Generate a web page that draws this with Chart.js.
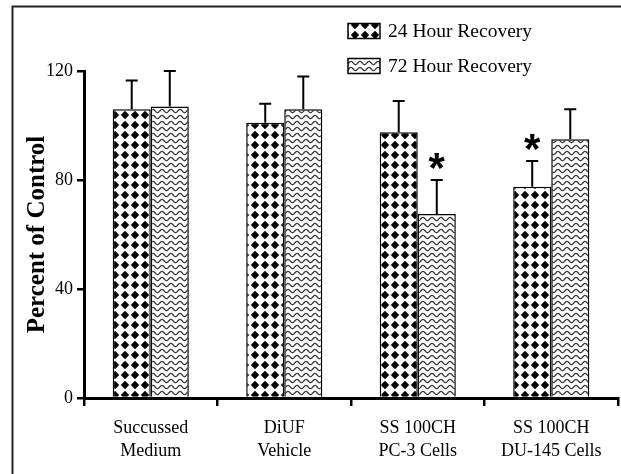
<!DOCTYPE html>
<html>
<head>
<meta charset="utf-8">
<script src="https://cdn.jsdelivr.net/npm/chart.js@4.4.1/dist/chart.umd.min.js"></script>
<style>
  html, body { margin: 0; padding: 0; background: #fff; }
  canvas { display: block; }
</style>
</head>
<body>
<canvas id="chart" width="621" height="474"></canvas>
<script>
// Treatment groups (two-line axis labels)
const categories = [
  ["Succussed", "Medium"],
  ["DiUF", "Vehicle"],
  ["SS 100CH", "PC-3 Cells"],
  ["SS 100CH", "DU-145 Cells"]
];
const seriesNames = ["24 Hour Recovery", "72 Hour Recovery"];

// Percent of control (mean) and upper error (SD)
const recovery24 = [106, 101, 97.5, 77.5];
const recovery24Err = [10.5, 7, 11.5, 9.5];
const recovery72 = [107, 106, 67.5, 95];
const recovery72Err = [13, 12, 12.5, 11];

// Significance markers (*)
const significant24 = [false, false, false, true];
const significant72 = [false, false, true, false];

const yTicks = [0, 40, 80, 120];

const SERIF = '"Liberation Serif", "Times New Roman", serif';

// Black diamonds on white
function diamondPattern() {
  const s = 10;
  const c = document.createElement('canvas');
  c.width = s; c.height = s;
  const g = c.getContext('2d');
  g.fillStyle = '#fff';
  g.fillRect(0, 0, s, s);
  g.fillStyle = '#000';
  g.beginPath();
  g.moveTo(5, 0.8); g.lineTo(9.2, 5); g.lineTo(5, 9.2); g.lineTo(0.8, 5);
  g.closePath();
  g.fill();
  return g.createPattern(c, 'repeat');
}

// Grey wavy lines on white
function wavePattern() {
  const w = 9, h = 6;
  const c = document.createElement('canvas');
  c.width = w; c.height = h;
  const g = c.getContext('2d');
  g.fillStyle = '#fff';
  g.fillRect(0, 0, w, h);
  g.strokeStyle = '#3a3a3a';
  g.lineWidth = 1.3;
  g.beginPath();
  for (let i = 0; i <= 36; i++) {
    const x = i * w / 36;
    const y = 3 - 1.6 * Math.cos(2 * Math.PI * x / w);
    if (i === 0) g.moveTo(x, y); else g.lineTo(x, y);
  }
  g.stroke();
  return g.createPattern(c, 'repeat');
}

// Outer frame lines (top and left)
const framePlugin = {
  id: 'frame',
  beforeDraw(chart) {
    const { ctx, width, height } = chart;
    ctx.save();
    ctx.fillStyle = '#fff';
    ctx.fillRect(0, 0, width, height);
    ctx.strokeStyle = '#222';
    ctx.lineWidth = 2;
    ctx.beginPath();
    ctx.moveTo(12.5, height);
    ctx.lineTo(12.5, 6.5);
    ctx.lineTo(width, 6.5);
    ctx.stroke();
    ctx.restore();
  }
};

// Upward error bars with caps, plus significance asterisks
const errorBarPlugin = {
  id: 'errorBars',
  afterDatasetsDraw(chart) {
    const { ctx } = chart;
    const y = chart.scales.y;
    chart.data.datasets.forEach((ds, i) => {
      const meta = chart.getDatasetMeta(i);
      meta.data.forEach((bar, j) => {
        const top = y.getPixelForValue(ds.data[j]);
        const end = y.getPixelForValue(ds.data[j] + ds.errPlus[j]);
        ctx.save();
        ctx.strokeStyle = '#000';
        ctx.lineWidth = 2;
        ctx.beginPath();
        ctx.moveTo(bar.x, top);
        ctx.lineTo(bar.x, end);
        ctx.moveTo(bar.x - 6, end);
        ctx.lineTo(bar.x + 6, end);
        ctx.stroke();
        if (ds.sig[j]) {
          ctx.fillStyle = '#000';
          ctx.font = 'bold 42px "Liberation Sans", Arial, sans-serif';
          ctx.textAlign = 'center';
          ctx.textBaseline = 'alphabetic';
          ctx.fillText('*', bar.x, end + 2);
        }
        ctx.restore();
      });
    });
  }
};

// Stacked legend with pattern swatches
const legendPlugin = {
  id: 'stackedLegend',
  afterDraw(chart) {
    const { ctx } = chart;
    const x0 = 348, sw = 32, sh = 15, rowY = [31, 66];
    chart.data.datasets.forEach((ds, i) => {
      const cy = rowY[i];
      ctx.save();
      ctx.fillStyle = ds.backgroundColor;
      ctx.fillRect(x0, cy - sh / 2, sw, sh);
      ctx.strokeStyle = '#000';
      ctx.lineWidth = 1.5;
      ctx.strokeRect(x0, cy - sh / 2, sw, sh);
      ctx.fillStyle = '#000';
      ctx.font = '19.5px ' + SERIF;
      ctx.textAlign = 'left';
      ctx.textBaseline = 'middle';
      ctx.fillText(ds.label, x0 + 40, cy + 1);
      ctx.restore();
    });
  }
};

const ctx = document.getElementById('chart').getContext('2d');
new Chart(ctx, {
  type: 'bar',
  data: {
    labels: categories,
    datasets: [
      {
        label: seriesNames[0],
        data: recovery24,
        errPlus: recovery24Err,
        sig: significant24,
        backgroundColor: diamondPattern(),
        borderColor: '#000',
        borderWidth: 1.5,
        categoryPercentage: 0.57,
        barPercentage: 1.0
      },
      {
        label: seriesNames[1],
        data: recovery72,
        errPlus: recovery72Err,
        sig: significant72,
        backgroundColor: wavePattern(),
        borderColor: '#000',
        borderWidth: 1.5,
        categoryPercentage: 0.57,
        barPercentage: 1.0
      }
    ]
  },
  options: {
    responsive: false,
    animation: false,
    layout: { padding: { left: 0, top: 71, right: 3, bottom: 0 } },
    plugins: {
      legend: { display: false },
      tooltip: { enabled: false }
    },
    scales: {
      x: {
        grid: {
          display: true,
          drawOnChartArea: false,
          drawTicks: true,
          tickLength: 8,
          color: '#000',
          lineWidth: 2.5
        },
        border: { display: true, color: '#000', width: 3 },
        ticks: {
          color: '#000',
          font: { family: SERIF, size: 18, lineHeight: 1.28 },
          padding: 11,
          maxRotation: 0,
          autoSkip: false
        },
        afterFit(scale) { scale.height = 76; }
      },
      y: {
        min: 0,
        max: 120,
        afterBuildTicks(scale) { scale.ticks = yTicks.map(v => ({ value: v })); },
        ticks: {
          color: '#000',
          font: { family: SERIF, size: 18 },
          padding: 4
        },
        grid: {
          drawOnChartArea: false,
          tickLength: 7,
          color: '#000',
          lineWidth: 2.5
        },
        border: { display: true, color: '#000', width: 3 },
        title: {
          display: true,
          text: 'Percent of Control',
          color: '#000',
          font: { family: SERIF, size: 25, weight: 'bold' },
          padding: { top: 23, bottom: 0 }
        },
        afterFit(scale) { scale.width = 84; }
      }
    }
  },
  plugins: [framePlugin, errorBarPlugin, legendPlugin]
});
</script>
</body>
</html>
